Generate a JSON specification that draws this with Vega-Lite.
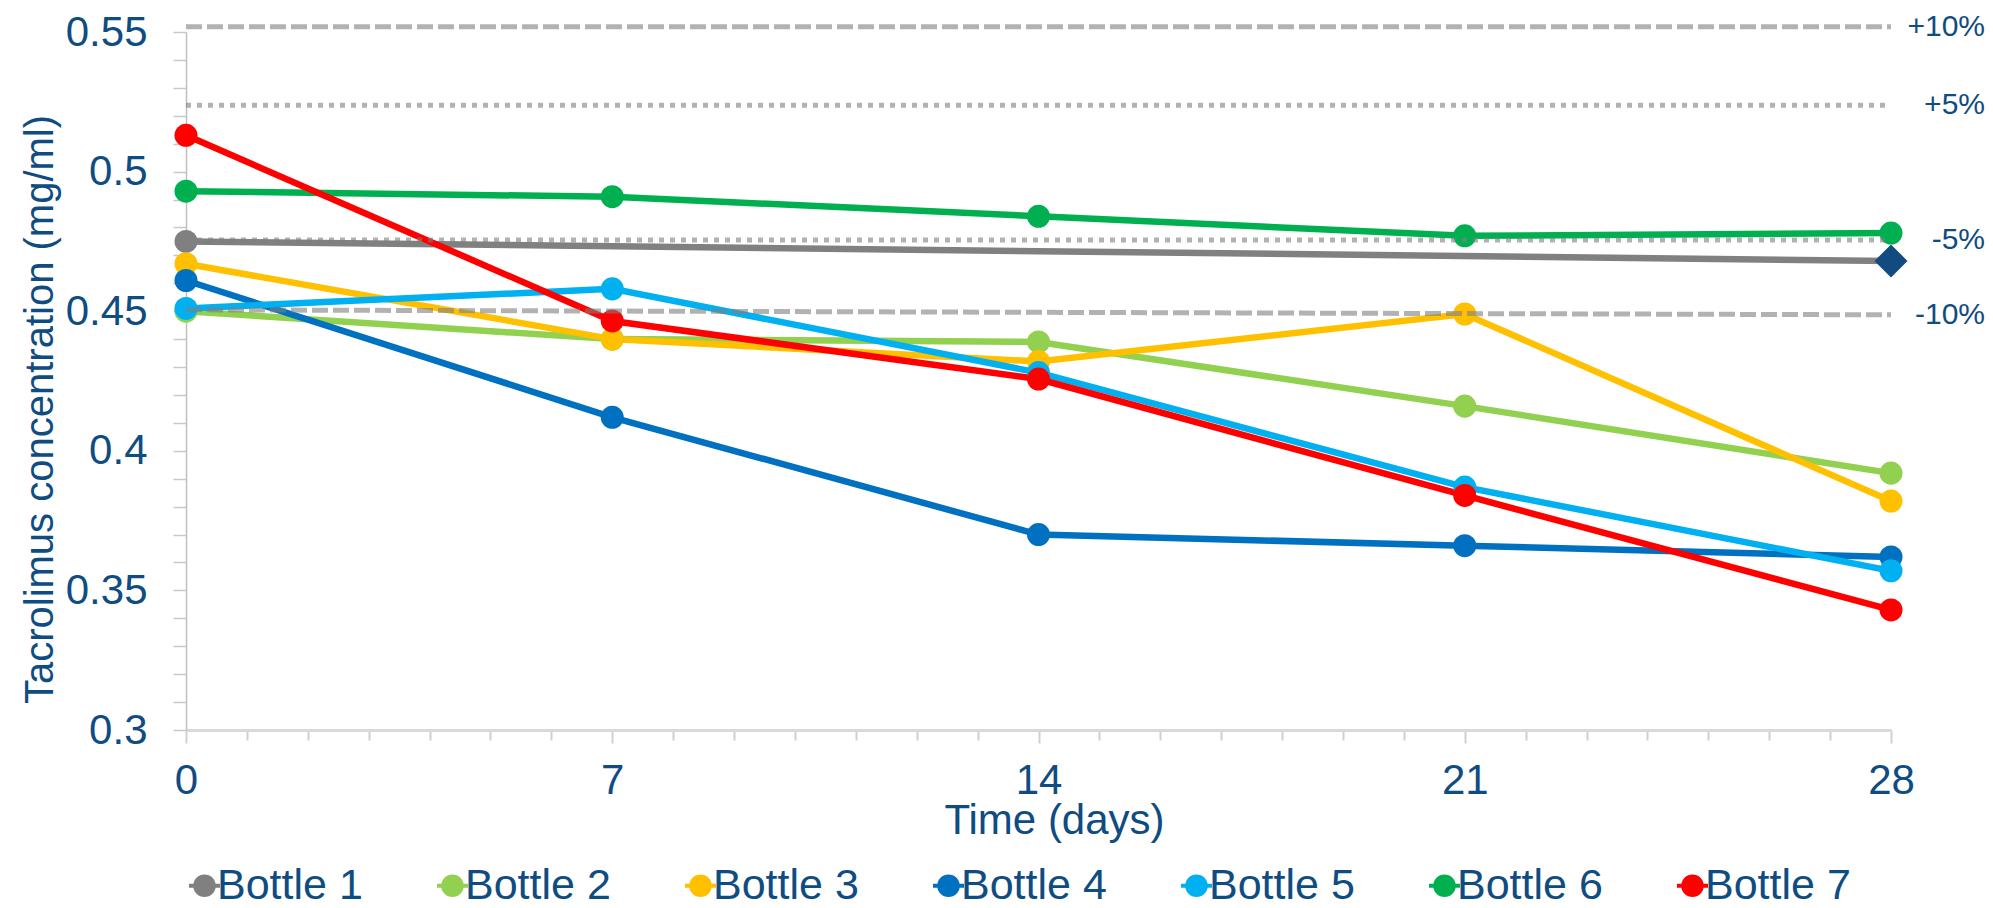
{
  "$schema": "https://vega.github.io/schema/vega-lite/v6.json",
  "width": 1705,
  "height": 698,
  "autosize": {"type": "none"},
  "padding": {"left": 186, "top": 32, "right": 102, "bottom": 178},
  "background": "white",
  "config": {"font": "Liberation Sans", "view": {"stroke": null}},
  "datasets": {
    "bottles": [
      {"bottle": "Bottle 1", "day": 0, "concentration": 0.475},
      {"bottle": "Bottle 1", "day": 28, "concentration": 0.468},
      {"bottle": "Bottle 2", "day": 0, "concentration": 0.450},
      {"bottle": "Bottle 2", "day": 7, "concentration": 0.440},
      {"bottle": "Bottle 2", "day": 14, "concentration": 0.439},
      {"bottle": "Bottle 2", "day": 21, "concentration": 0.416},
      {"bottle": "Bottle 2", "day": 28, "concentration": 0.392},
      {"bottle": "Bottle 3", "day": 0, "concentration": 0.467},
      {"bottle": "Bottle 3", "day": 7, "concentration": 0.440},
      {"bottle": "Bottle 3", "day": 14, "concentration": 0.432},
      {"bottle": "Bottle 3", "day": 21, "concentration": 0.449},
      {"bottle": "Bottle 3", "day": 28, "concentration": 0.382},
      {"bottle": "Bottle 4", "day": 0, "concentration": 0.461},
      {"bottle": "Bottle 4", "day": 7, "concentration": 0.412},
      {"bottle": "Bottle 4", "day": 14, "concentration": 0.370},
      {"bottle": "Bottle 4", "day": 21, "concentration": 0.366},
      {"bottle": "Bottle 4", "day": 28, "concentration": 0.362},
      {"bottle": "Bottle 5", "day": 0, "concentration": 0.451},
      {"bottle": "Bottle 5", "day": 7, "concentration": 0.458},
      {"bottle": "Bottle 5", "day": 14, "concentration": 0.428},
      {"bottle": "Bottle 5", "day": 21, "concentration": 0.387},
      {"bottle": "Bottle 5", "day": 28, "concentration": 0.357},
      {"bottle": "Bottle 6", "day": 0, "concentration": 0.493},
      {"bottle": "Bottle 6", "day": 7, "concentration": 0.491},
      {"bottle": "Bottle 6", "day": 14, "concentration": 0.484},
      {"bottle": "Bottle 6", "day": 21, "concentration": 0.477},
      {"bottle": "Bottle 6", "day": 28, "concentration": 0.478},
      {"bottle": "Bottle 7", "day": 0, "concentration": 0.513},
      {"bottle": "Bottle 7", "day": 7, "concentration": 0.4465},
      {"bottle": "Bottle 7", "day": 14, "concentration": 0.4257},
      {"bottle": "Bottle 7", "day": 21, "concentration": 0.384},
      {"bottle": "Bottle 7", "day": 28, "concentration": 0.343}
    ],
    "refs": [
      {"limit": "+10%", "band": "10%", "day": 0, "value": 0.5519},
      {"limit": "+10%", "band": "10%", "day": 28, "value": 0.5519},
      {"limit": "+5%", "band": "5%", "day": 0, "value": 0.5238},
      {"limit": "+5%", "band": "5%", "day": 28, "value": 0.5238},
      {"limit": "-5%", "band": "5%", "day": 0, "value": 0.4755},
      {"limit": "-5%", "band": "5%", "day": 28, "value": 0.4755},
      {"limit": "-10%", "band": "10%", "day": 0, "value": 0.4505},
      {"limit": "-10%", "band": "10%", "day": 28, "value": 0.4487}
    ]
  },
  "layer": [
    {
      "data": {"name": "bottles"},
      "mark": {"type": "line", "strokeWidth": 6.5},
      "encoding": {
        "x": {
          "field": "day", "type": "quantitative",
          "scale": {"domain": [0, 28], "nice": false, "zero": false},
          "axis": {
            "values": [0,1,2,3,4,5,6,7,8,9,10,11,12,13,14,15,16,17,18,19,20,21,22,23,24,25,26,27,28],
            "tickCount": 40,
            "format": "d",
            "labelExpr": "datum.value % 7 === 0 ? datum.label : ''",
            "grid": false,
            "domainColor": "#D9D9D9", "domainWidth": 3,
            "tickColor": "#D0D0D0", "tickWidth": 2,
            "tickSize": {"condition": {"test": "datum.value % 7 === 0", "value": 13}, "value": 10},
            "labelFontSize": 42, "labelColor": "#0F4C81", "labelPadding": 17,
            "labelOverlap": false, "labelFlush": false, "labelBound": false,
            "title": "Time (days)", "titleFontSize": 42, "titleColor": "#0F4C81",
            "titleFontWeight": "normal", "titleX": 868, "titleY": 103, "titleBaseline": "alphabetic"
          }
        },
        "y": {
          "field": "concentration", "type": "quantitative",
          "scale": {"domain": [0.3, 0.55], "nice": false, "zero": false},
          "axis": {
            "values": [0.3,0.31,0.32,0.33,0.34,0.35,0.36,0.37,0.38,0.39,0.4,0.41,0.42,0.43,0.44,0.45,0.46,0.47,0.48,0.49,0.5,0.51,0.52,0.53,0.54,0.55],
            "tickCount": 40,
            "format": ".2~f",
            "labelExpr": "indexof(['0.3','0.35','0.4','0.45','0.5','0.55'], datum.label) >= 0 ? datum.label : ''",
            "grid": false,
            "domainColor": "#BFBFBF", "domainWidth": 1.5,
            "tickColor": "#C8C8C8", "tickWidth": 1.5, "tickSize": 13,
            "labelFontSize": 42, "labelColor": "#0F4C81", "labelPadding": 26,
            "labelOverlap": false, "labelFlush": false, "labelBound": false,
            "title": "Tacrolimus concentration (mg/ml)", "titleFontSize": 40, "titleColor": "#0F4C81",
            "titleFontWeight": "normal", "titleAngle": 270, "titleX": -134, "titleY": 377,
            "titleBaseline": "alphabetic", "titleAlign": "center"
          }
        },
        "stroke": {
          "field": "bottle", "type": "nominal",
          "scale": {
            "domain": ["Bottle 1","Bottle 2","Bottle 3","Bottle 4","Bottle 5","Bottle 6","Bottle 7"],
            "range": ["#808080","#92D050","#FFC000","#0070C0","#00B0F0","#00B050","#FF0000"]
          },
          "legend": {
            "orient": "none", "legendX": -3, "legendY": 832, "direction": "horizontal",
            "columns": 7, "columnPadding": 66, "title": null,
            "labelFontSize": 43, "labelColor": "#0F4C81", "labelOffset": -9, "labelLimit": 0,
            "symbolType": "M-1,0L1,0M0.6,0A0.6,0.6,0,1,1,-0.6,0A0.6,0.6,0,1,1,0.6,0Z",
            "symbolSize": 961, "symbolStrokeWidth": 4, "symbolOpacity": 1
          }
        }
      }
    },
    {
      "data": {"name": "bottles"},
      "transform": [{"filter": "!(datum.bottle === 'Bottle 1' && datum.day === 28)"}],
      "mark": {"type": "point", "shape": "circle", "filled": true, "size": 530, "opacity": 1},
      "encoding": {
        "x": {"field": "day", "type": "quantitative"},
        "y": {"field": "concentration", "type": "quantitative"},
        "fill": {
          "field": "bottle", "type": "nominal",
          "scale": {
            "domain": ["Bottle 1","Bottle 2","Bottle 3","Bottle 4","Bottle 5","Bottle 6","Bottle 7"],
            "range": ["#808080","#92D050","#FFC000","#0070C0","#00B0F0","#00B050","#FF0000"]
          },
          "legend": {
            "orient": "none", "legendX": -3, "legendY": 832, "direction": "horizontal",
            "columns": 7, "columnPadding": 66, "title": null,
            "labelFontSize": 43, "labelColor": "#0F4C81", "labelOffset": -9, "labelLimit": 0,
            "symbolType": "M-1,0L1,0M0.6,0A0.6,0.6,0,1,1,-0.6,0A0.6,0.6,0,1,1,0.6,0Z",
            "symbolSize": 961, "symbolStrokeWidth": 4, "symbolOpacity": 1
          }
        }
      }
    },
    {
      "data": {"name": "bottles"},
      "transform": [{"filter": "datum.bottle === 'Bottle 1' && datum.day === 28"}],
      "mark": {"type": "point", "shape": "diamond", "filled": true, "size": 1089, "opacity": 1, "color": "#114B7F"},
      "encoding": {
        "x": {"field": "day", "type": "quantitative"},
        "y": {"field": "concentration", "type": "quantitative"}
      }
    },
    {
      "data": {"name": "refs"},
      "mark": {"type": "line", "stroke": "#7F7F7F", "strokeWidth": 5, "opacity": 0.6},
      "encoding": {
        "x": {"field": "day", "type": "quantitative"},
        "y": {"field": "value", "type": "quantitative"},
        "detail": {"field": "limit", "type": "nominal"},
        "strokeDash": {
          "field": "band", "type": "nominal",
          "scale": {"domain": ["10%", "5%"], "range": [[16, 5], [5, 6]]},
          "legend": null
        }
      }
    },
    {
      "data": {"name": "refs"},
      "transform": [{"filter": "datum.day === 28"}],
      "mark": {"type": "text", "align": "right", "baseline": "middle", "dx": 94, "fontSize": 30, "color": "#0F4C81"},
      "encoding": {
        "x": {"field": "day", "type": "quantitative"},
        "y": {"field": "value", "type": "quantitative"},
        "text": {"field": "limit", "type": "nominal"}
      }
    }
  ]
}
